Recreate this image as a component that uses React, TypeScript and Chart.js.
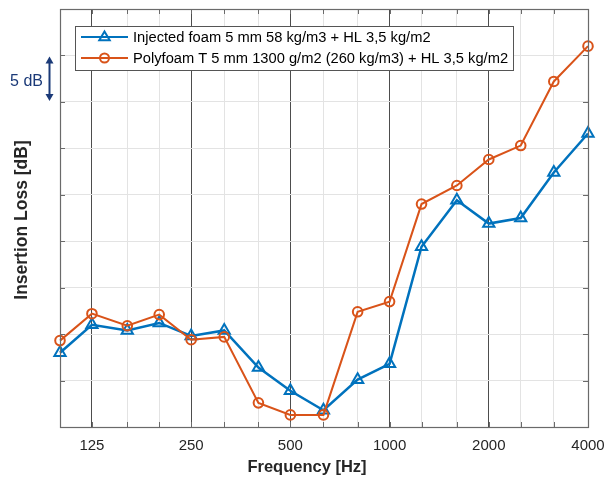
import { useEffect, useRef } from 'react';
import { Chart, registerables } from 'chart.js';
Chart.register(...registerables);

const frequencies = [100, 125, 160, 200, 250, 315, 400, 500, 630, 800, 1000, 1250, 1600, 2000, 2500, 3150, 4000];
const octaveLabels = [125, 250, 500, 1000, 2000, 4000];
const injectedFoam = [8.0, 11.0, 10.4, 11.2, 9.8, 10.4, 6.4, 3.9, 1.8, 5.1, 6.8, 19.4, 24.4, 21.9, 22.5, 27.4, 31.6];
const polyfoam = [9.3, 12.2, 10.9, 12.1, 9.4, 9.7, 2.6, 1.3, 1.3, 12.4, 13.5, 24.0, 26.0, 28.8, 30.3, 37.2, 41.0];
const seriesNames = [
  'Injected foam 5 mm 58 kg/m3 + HL 3,5 kg/m2',
  'Polyfoam T 5 mm 1300 g/m2 (260 kg/m3) + HL 3,5 kg/m2',
];
const xTitle = 'Frequency [Hz]';
const yTitle = 'Insertion Loss [dB]';
const scaleNote = '5 dB';
const yMin = 0;
const yMax = 45;
const yStep = 5;

const BLUE = '#0072BD';
const ORANGE = '#D95319';
const TEXT = '#262626';
const FRAME = '#6a6a6a';
const NAVY = '#1B3A78';
const FONT = '"Liberation Sans", Arial, Helvetica, sans-serif';

const overlay = {
  id: 'overlay',
  afterDraw(chart: any) {
    const ctx = chart.ctx as CanvasRenderingContext2D;
    const a = chart.chartArea;
    const xs = chart.scales.x;
    const ys = chart.scales.y;
    ctx.save();
    // inward tick marks
    ctx.strokeStyle = FRAME;
    ctx.lineWidth = 1;
    for (const f of frequencies) {
      const px = Math.round(xs.getPixelForValue(f)) + 0.5;
      ctx.beginPath();
      ctx.moveTo(px, a.bottom);
      ctx.lineTo(px, a.bottom - 5);
      ctx.moveTo(px, a.top);
      ctx.lineTo(px, a.top + 5);
      ctx.stroke();
    }
    for (let v = yMin; v <= yMax; v += yStep) {
      const py = Math.round(ys.getPixelForValue(v)) + 0.5;
      ctx.beginPath();
      ctx.moveTo(a.left, py);
      ctx.lineTo(a.left + 5, py);
      ctx.moveTo(a.right, py);
      ctx.lineTo(a.right - 5, py);
      ctx.stroke();
    }
    // frame
    ctx.strokeStyle = FRAME;
    ctx.lineWidth = 1.2;
    ctx.strokeRect(Math.round(a.left) + 0.5, Math.round(a.top) + 0.5, Math.round(a.right - a.left), Math.round(a.bottom - a.top));

    // legend
    const lx = 75, ly = 26, lw = 438, lh = 44;
    ctx.fillStyle = '#ffffff';
    ctx.fillRect(lx, ly, lw, lh);
    ctx.strokeStyle = '#555555';
    ctx.lineWidth = 1;
    ctx.strokeRect(lx + 0.5, ly + 0.5, lw, lh);
    const rows = [
      { y: 37, color: BLUE, style: 'triangle', label: seriesNames[0] },
      { y: 58, color: ORANGE, style: 'circle', label: seriesNames[1] },
    ];
    for (const r of rows) {
      ctx.strokeStyle = r.color;
      ctx.lineWidth = 2;
      ctx.beginPath();
      ctx.moveTo(81, r.y);
      ctx.lineTo(128, r.y);
      ctx.stroke();
      ctx.beginPath();
      if (r.style === 'circle') {
        ctx.arc(104.5, r.y, 4.5, 0, Math.PI * 2);
      } else {
        const s = 5.5;
        ctx.moveTo(104.5, r.y - s);
        ctx.lineTo(104.5 + s * 0.95, r.y + s * 0.6);
        ctx.lineTo(104.5 - s * 0.95, r.y + s * 0.6);
        ctx.closePath();
      }
      ctx.stroke();
      ctx.fillStyle = '#000000';
      ctx.font = `14.7px ${FONT}`;
      ctx.textAlign = 'left';
      ctx.textBaseline = 'middle';
      ctx.fillText(r.label, 133, r.y + 0.5);
    }

    // axis titles
    ctx.fillStyle = TEXT;
    ctx.font = `bold 16.5px ${FONT}`;
    ctx.textAlign = 'center';
    ctx.textBaseline = 'middle';
    ctx.fillText(xTitle, 307, 467);
    ctx.save();
    ctx.translate(22, 220);
    ctx.rotate(-Math.PI / 2);
    ctx.font = `bold 17.5px ${FONT}`;
    ctx.fillText(yTitle, 0, 0);
    ctx.restore();

    // 5 dB annotation
    const y1 = ys.getPixelForValue(40);
    const y2 = ys.getPixelForValue(35);
    ctx.fillStyle = NAVY;
    ctx.strokeStyle = NAVY;
    ctx.font = `16px ${FONT}`;
    ctx.textAlign = 'right';
    ctx.textBaseline = 'middle';
    ctx.fillText(scaleNote, 43, (y1 + y2) / 2 + 2.5);
    const ax = 49.5;
    ctx.lineWidth = 2;
    ctx.beginPath();
    ctx.moveTo(ax, y1 + 5);
    ctx.lineTo(ax, y2 - 5);
    ctx.stroke();
    ctx.beginPath();
    ctx.moveTo(ax, y1 + 1);
    ctx.lineTo(ax + 4, y1 + 8);
    ctx.lineTo(ax - 4, y1 + 8);
    ctx.closePath();
    ctx.fill();
    ctx.beginPath();
    ctx.moveTo(ax, y2 - 1);
    ctx.lineTo(ax + 4, y2 - 8);
    ctx.lineTo(ax - 4, y2 - 8);
    ctx.closePath();
    ctx.fill();
    ctx.restore();
  },
};

export default function App() {
  const ref = useRef<HTMLCanvasElement>(null);
  useEffect(() => {
    if (!ref.current) return;
    const chart = new Chart(ref.current, {
      type: 'line',
      data: {
        datasets: [
          {
            label: seriesNames[0],
            data: frequencies.map((f, i) => ({ x: f, y: injectedFoam[i] })),
            borderColor: BLUE,
            backgroundColor: 'rgba(0,0,0,0)',
            borderWidth: 2.5,
            pointStyle: 'triangle',
            pointRadius: 6.5,
            pointBorderWidth: 2,
            pointBorderColor: BLUE,
            pointBackgroundColor: 'rgba(0,0,0,0)',
            order: 1,
          },
          {
            label: seriesNames[1],
            data: frequencies.map((f, i) => ({ x: f, y: polyfoam[i] })),
            borderColor: ORANGE,
            backgroundColor: 'rgba(0,0,0,0)',
            borderWidth: 2,
            pointStyle: 'circle',
            pointRadius: 4.8,
            pointBorderWidth: 2,
            pointBorderColor: ORANGE,
            pointBackgroundColor: 'rgba(0,0,0,0)',
            order: 0,
          },
        ],
      },
      options: {
        animation: false,
        responsive: false,
        maintainAspectRatio: false,
        clip: false as any,
        layout: { padding: { left: 60, right: 18, top: 9, bottom: 0 } },
        plugins: { legend: { display: false }, tooltip: { enabled: false } },
        scales: {
          x: {
            type: 'logarithmic',
            min: 100,
            max: 4000,
            afterBuildTicks: (s: any) => {
              s.ticks = frequencies.map((f) => ({ value: f }));
            },
            afterFit: (s: any) => {
              s.height = 53;
              s.paddingLeft = 0;
              s.paddingRight = 0;
            },
            border: { display: false },
            grid: {
              drawTicks: false,
              lineWidth: 1,
              color: (c: any) => (octaveLabels.includes(c.tick?.value) ? '#4d4d4d' : '#e3e3e3'),
            },
            ticks: {
              autoSkip: false,
              maxRotation: 0,
              padding: 10,
              color: TEXT,
              font: { family: FONT, size: 15 },
              callback: (v: any) => (octaveLabels.includes(Number(v)) ? String(v) : ''),
            },
          },
          y: {
            min: yMin,
            max: yMax,
            afterFit: (s: any) => {
              s.width = 0;
              s.paddingTop = 0;
              s.paddingBottom = 0;
            },
            border: { display: false },
            grid: { drawTicks: false, color: '#e3e3e3', lineWidth: 1 },
            ticks: { display: false, stepSize: yStep },
          },
        },
      },
      plugins: [overlay],
    });
    return () => chart.destroy();
  }, []);
  return (
    <div style={{ position: 'fixed', left: 0, top: 0, width: 606, height: 480, background: '#fff' }}>
      <canvas ref={ref} width={606} height={480} style={{ width: 606, height: 480 }} />
    </div>
  );
}
